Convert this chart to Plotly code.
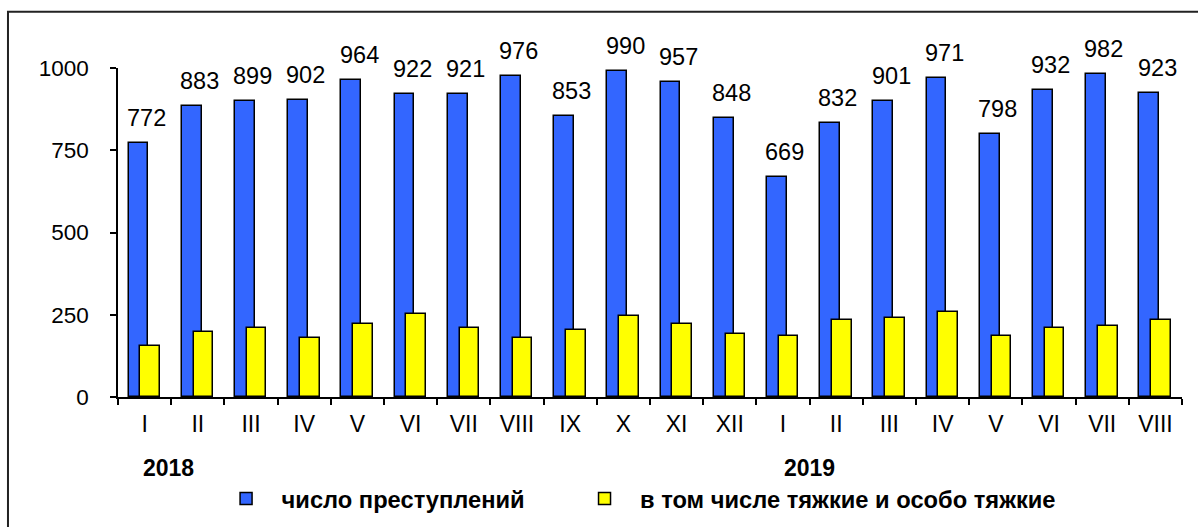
import plotly.graph_objects as go

months = ["I", "II", "III", "IV", "V", "VI", "VII", "VIII", "IX", "X", "XI", "XII",
          "I", "II", "III", "IV", "V", "VI", "VII", "VIII"]
crimes = [772, 883, 899, 902, 964, 922, 921, 976, 853, 990, 957, 848,
          669, 832, 901, 971, 798, 932, 982, 923]
grave = [155, 197, 209, 179, 221, 251, 209, 179, 203, 245, 221, 191,
         185, 233, 239, 257, 185, 209, 215, 233]
years = ["2018", "2019"]
year_pos = [0.45, 12.5]
series_names = ["число преступлений", "в том числе тяжкие и особо тяжкие"]
y_ticks = [0, 250, 500, 750, 1000]

xs = list(range(len(months)))
FONT = "Liberation Sans, Arial, sans-serif"

fig = go.Figure()
fig.add_trace(go.Bar(
    x=xs, y=crimes, name=series_names[0], legend="legend",
    marker=dict(color="#3366FF", line=dict(color="#000000", width=1.5)),
    width=0.37, offset=-0.30,
))
fig.add_trace(go.Bar(
    x=xs, y=grave, name=series_names[1], legend="legend2",
    marker=dict(color="#FFFF00", line=dict(color="#000000", width=1.5)),
    width=0.37, offset=-0.08,
))

annotations = []
for x, v in zip(xs, crimes):
    annotations.append(dict(
        x=x + 0.03, y=v, xref="x", yref="y", text=str(v), showarrow=False,
        yanchor="bottom", xanchor="center", yshift=10,
        font=dict(family=FONT, size=23.5, color="#000000"),
    ))
for x, t in zip(year_pos, years):
    annotations.append(dict(
        x=x, y=-0.216, xref="x", yref="paper", text=t, showarrow=False,
        yanchor="middle", xanchor="center",
        font=dict(family=FONT, size=23, color="#000000", weight="bold"),
    ))

legend_common = dict(
    orientation="h", yanchor="middle", y=-0.3085,
    font=dict(family=FONT, size=23.7, color="#000000", weight="bold"),
    itemwidth=61, bgcolor="rgba(0,0,0,0)",
)

fig.update_layout(
    width=1198, height=527,
    margin=dict(l=118, r=16, t=68, b=130, autoexpand=False),
    paper_bgcolor="#FFFFFF", plot_bgcolor="#FFFFFF",
    barmode="overlay",
    bargap=0,
    annotations=annotations,
    showlegend=True,
    legend=dict(x=0.0870, xanchor="left", **legend_common),
    legend2=dict(x=0.4239, xanchor="left", **legend_common),
    shapes=[dict(
        type="rect", xref="paper", yref="paper",
        x0=-0.1034, x1=1.05, y0=-0.6, y1=1.171,
        line=dict(color="#222222", width=2), fillcolor="rgba(0,0,0,0)",
        layer="below",
    )],
    xaxis=dict(
        range=[-0.5, len(months) - 0.5],
        tickmode="array", tickvals=xs, ticktext=months,
        ticks="", showgrid=False, zeroline=False,
        showline=True, linecolor="#000000", linewidth=1.5,
        tickfont=dict(family=FONT, size=23, color="#000000"),
        ticklabelstandoff=6,
        minor=dict(tickmode="array", tickvals=[i - 0.5 for i in range(len(months) + 1)],
                   ticks="outside", ticklen=6, tickwidth=1.5, tickcolor="#000000",
                   showgrid=False),
    ),
    yaxis=dict(
        range=[0, 1000],
        tickmode="array", tickvals=y_ticks,
        ticks="outside", ticklen=6, tickwidth=1.5, tickcolor="#000000",
        showgrid=False, zeroline=False,
        showline=True, linecolor="#000000", linewidth=1.5,
        tickfont=dict(family=FONT, size=22.5, color="#000000"),
        ticklabelstandoff=17,
    ),
)

fig.write_html(
    "out.html",
    config={"displayModeBar": False},
    post_script="document.body.style.margin='0';document.body.style.overflow='hidden';",
)
